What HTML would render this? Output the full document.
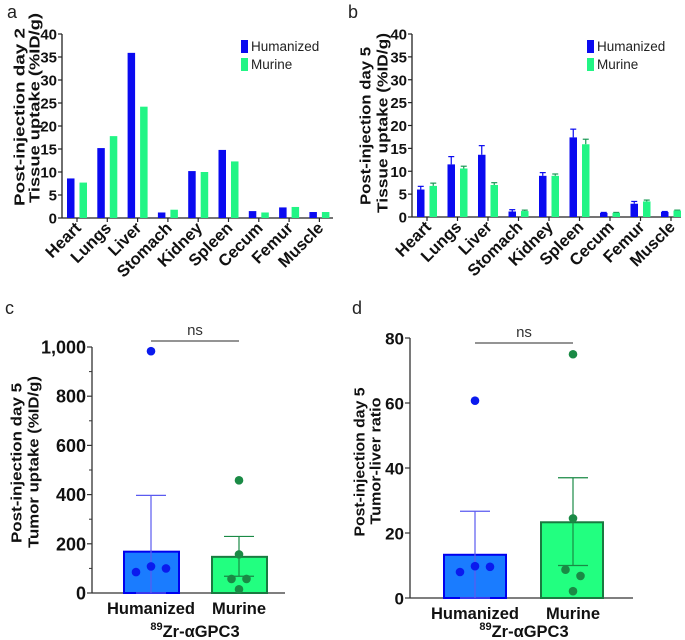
<!DOCTYPE html>
<html><head><meta charset="utf-8"><style>
body{margin:0;background:#fff;}
svg{display:block;font-family:"Liberation Sans",Arial,sans-serif;}
.t{font-weight:bold;fill:#111;}
</style></head><body>
<svg id="s" width="685" height="640" viewBox="0 0 685 640"></svg>
<script>
const organs=["Heart","Lungs","Liver","Stomach","Kidney","Spleen","Cecum","Femur","Muscle"];
const aHum=[8.6,15.2,35.9,1.2,10.2,14.8,1.5,2.3,1.3];
const aMur=[7.7,17.8,24.2,1.8,10.0,12.3,1.2,2.4,1.3];
const bHum=[6.0,11.5,13.6,1.2,9.0,17.4,0.9,2.9,1.1];
const bHumErr=[0.7,1.7,2.0,0.4,0.7,1.8,0.1,0.5,0.1];
const bMur=[6.8,10.6,7.0,1.3,9.0,15.9,0.9,3.4,1.4];
const bMurErr=[0.6,0.5,0.5,0.2,0.4,1.1,0.1,0.3,0.1];
const tissueTicks=[0,5,10,15,20,25,30,35,40];
const cMeans=[168,147];
const cErrUp=[397,230];
const cErrLo=[0,68];
const cHumPts=[983,85,108,100];
const cMurPts=[458,157,57,57,15];
const cTicks=["0","200","400","600","800","1,000"];
const dMeans=[13.3,23.3];
const dErrUp=[26.7,37];
const dErrLo=[0,10];
const dHumPts=[60.7,8,9.8,9.6];
const dMurPts=[75,24.5,8.7,6.8,2.1];
const dTicks=["0","20","40","60","80"];

const S=document.getElementById('s');const NS='http://www.w3.org/2000/svg';
function E(tag,at,name,txt){const e=document.createElementNS(NS,tag);for(const k in at)e.setAttribute(k,at[k]);


if(txt!==undefined)e.textContent=txt;S.appendChild(e);return e;}
const BLUE="#0a0af0",GREEN="#22f585";

function label(x,y,t){E('text',{x:x,y:y,'font-size':18,fill:'#222'},'panel-label-'+t,t);}
function ytitle(x1,c1,len1,x2,c2,len2,l1,l2,id){
 E('text',{x:0,y:0,class:'t','text-anchor':'middle',textLength:len1,lengthAdjust:'spacingAndGlyphs',transform:`translate(${x1+5.5},${c1}) rotate(-90)`,'font-size':'15'},id+'-y-title-line1',l1);
 E('text',{x:0,y:0,class:'t','text-anchor':'middle',textLength:len2,lengthAdjust:'spacingAndGlyphs',transform:`translate(${x2+5.5},${c2}) rotate(-90)`,'font-size':'15'},id+'-y-title-line2',l2);}

function tissue(id,ax,axEnd,y0,y40,c0,sp,hum,mur,hErr,mErr,l1,l2,tt){
 const Y=v=>y0+(y40-y0)*v/40;
 const X=i=>c0+sp*i;
 E('line',{x1:ax,y1:y40,x2:ax,y2:y0,stroke:'#222','stroke-width':1.3},id+'-y-axis');
 E('line',{x1:ax,y1:y0,x2:axEnd,y2:y0,stroke:'#222','stroke-width':1.3},id+'-x-axis');
 tissueTicks.forEach(t=>{E('line',{x1:ax-4,y1:Y(t),x2:ax,y2:Y(t),stroke:'#222','stroke-width':1.2},id+'-y-tick');
  E('text',{x:ax-5,y:Y(t)+5.5,class:'t','text-anchor':'end','font-size':'15'},id+'-y-tick-label',t);});
 organs.forEach((o,i)=>{const cx=X(i);
  E('line',{x1:cx,y1:y0,x2:cx,y2:y0+4,stroke:'#222','stroke-width':1.2},id+'-x-tick');
  const bw=7.5,g=2.5;
  if(hErr){E('line',{x1:cx-g-bw/2,y1:Y(hum[i]),x2:cx-g-bw/2,y2:Y(hum[i]+hErr[i]),stroke:BLUE,'stroke-width':1.2},id+'-err-hum');
   E('line',{x1:cx-g-bw/2-3,y1:Y(hum[i]+hErr[i]),x2:cx-g-bw/2+3,y2:Y(hum[i]+hErr[i]),stroke:BLUE,'stroke-width':1.2},id+'-errcap-hum');
   E('line',{x1:cx+g+bw/2,y1:Y(mur[i]),x2:cx+g+bw/2,y2:Y(mur[i]+mErr[i]),stroke:'#1a9a55','stroke-width':1.2},id+'-err-mur');
   E('line',{x1:cx+g+bw/2-3,y1:Y(mur[i]+mErr[i]),x2:cx+g+bw/2+3,y2:Y(mur[i]+mErr[i]),stroke:'#1a9a55','stroke-width':1.2},id+'-errcap-mur');}
  E('rect',{x:cx-g-bw,y:Y(hum[i]),width:bw,height:y0-Y(hum[i]),fill:BLUE},id+'-bar-hum-'+o.toLowerCase());
  E('rect',{x:cx+g,y:Y(mur[i]),width:bw,height:y0-Y(mur[i]),fill:GREEN},id+'-bar-mur-'+o.toLowerCase());
  E('text',{x:0,y:0,class:'t','text-anchor':'end',transform:`translate(${cx+5},${y0+11}) rotate(-45)`,'font-size':'16.5'},id+'-x-label',o);
 });
 const lx=ax+(id=='a'?179:175);
 E('rect',{x:lx,y:40,width:7,height:13,fill:BLUE},id+'-legend-swatch-hum');
 E('text',{x:lx+10,y:51,'font-size':13.5,fill:'#222'},id+'-legend-hum','Humanized');
 E('rect',{x:lx,y:58,width:7,height:13,fill:GREEN},id+'-legend-swatch-mur');
 E('text',{x:lx+10,y:69,'font-size':13.5,fill:'#222'},id+'-legend-mur','Murine');
 ytitle(tt[0],tt[1],tt[2],tt[3],tt[4],tt[5],l1,l2,id);
}
label(7,18,'a');label(348,18,'b');label(5,314,'c');label(352,314,'d');
tissue('a',62,333,218,34,77,30.3,aHum,aMur,null,null,'Post-injection day 2','Tissue uptake (%ID/g)',[19,117,178,34,108,190]);
tissue('b',412,681,217,34,427,30.5,bHum,bMur,bHumErr,bMurErr,'Post-injection day 5','Tissue uptake (%ID/g)',[365,126,158,382,123,180]);

function dots(id,ax,axEnd,y0,yTop,vmax,ticks,minor,bars,means,up,lo,humPts,murPts,humX,murX,nsY,l1,l2,tt,tfs){
 const Y=v=>y0+(yTop-y0)*v/vmax;
 E('line',{x1:ax,y1:yTop,x2:ax,y2:y0,stroke:'#333','stroke-width':1.3},id+'-y-axis');
 E('line',{x1:ax,y1:y0,x2:axEnd,y2:y0,stroke:'#333','stroke-width':1.3},id+'-x-axis');
 const step=vmax/(ticks.length-1);
 ticks.forEach((t,i)=>{const y=Y(i*step);E('line',{x1:ax-5,y1:y,x2:ax,y2:y,stroke:'#333','stroke-width':1.2},id+'-y-tick');
  E('text',{x:ax-6,y:y+6.5,class:'t','text-anchor':'end','font-size':tfs},id+'-y-tick-label',t);
  if(minor&&i<ticks.length-1)E('line',{x1:ax-3,y1:Y((i+0.5)*step),x2:ax,y2:Y((i+0.5)*step),stroke:'#333','stroke-width':1},id+'-y-minor-tick');});
 const fills=['#1a7cff','#22ff80'],strokes=['#0000ee','#1a7a40'],ec=['#5a5af0','#1a8a45'],dc=['#0a1aee','#1a8a45'];
 const names=['Humanized','Murine'];const cx=[humX,murX];const pts=[humPts,murPts];
 for(let k=0;k<2;k++){
  E('rect',{x:bars[k][0]+1,y:Y(means[k]),width:bars[k][1]-bars[k][0]-2,height:y0-Y(means[k]),fill:fills[k],stroke:strokes[k],'stroke-width':2},id+'-bar-'+names[k].toLowerCase());
  E('line',{x1:cx[k],y1:Y(up[k]),x2:cx[k],y2:Y(lo[k]),stroke:ec[k],'stroke-width':1.2},id+'-err-'+k);
  E('line',{x1:cx[k]-15,y1:Y(up[k]),x2:cx[k]+15,y2:Y(up[k]),stroke:ec[k],'stroke-width':1.2},id+'-errcap-up-'+k);
  E('line',{x1:cx[k]-15,y1:Y(lo[k]),x2:cx[k]+15,y2:Y(lo[k]),stroke:ec[k],'stroke-width':1.2},id+'-errcap-lo-'+k);
  const offs=k==0?[0,-15,0,15]:[0,0,-7.5,7.5,0];
  pts[k].forEach((v,j)=>E('circle',{cx:cx[k]+offs[j],cy:Y(v),r:4.3,fill:dc[k]},id+'-point-'+names[k].toLowerCase()));
  E('text',{x:cx[k],y:y0+21,class:'t','text-anchor':'middle','font-size':'16.5'},id+'-x-label-'+k,names[k]);
 }
 E('line',{x1:humX,y1:nsY,x2:murX,y2:nsY,stroke:'#555','stroke-width':1.2},id+'-ns-bracket');
 E('text',{x:(humX+murX)/2,y:nsY-6,'font-size':15,'text-anchor':'middle',fill:'#333'},id+'-ns-label','ns');
 const t=E('text',{x:(humX+murX)/2,y:637,class:'t','text-anchor':'middle','font-size':'16.5'},id+'-x-title','');
 const s1=document.createElementNS(NS,'tspan');s1.setAttribute('font-size','11');s1.setAttribute('dy','-7');s1.textContent='89';t.appendChild(s1);
 const s2=document.createElementNS(NS,'tspan');s2.setAttribute('dy','7');s2.textContent='Zr-αGPC3';t.appendChild(s2);
 ytitle(tt[0],tt[1],tt[2],tt[3],tt[4],tt[5],l1,l2,id);
}
dots('c',92,285,593,347,1000,cTicks,true,[[123,180],[211,268]],cMeans,cErrUp,cErrLo,cHumPts,cMurPts,151,239,341,'Post-injection day 5','Tumor uptake (%ID/g)',[16,463,160,33,462,172],18);
dots('d',410,633,598,338,80,dTicks,false,[[443,507],[540,604]],dMeans,dErrUp,dErrLo,dHumPts,dMurPts,475,573,343,'Post-injection day 5','Tumor-liver ratio',[359,462,149,375,461,127],17);
</script>
</body></html>
